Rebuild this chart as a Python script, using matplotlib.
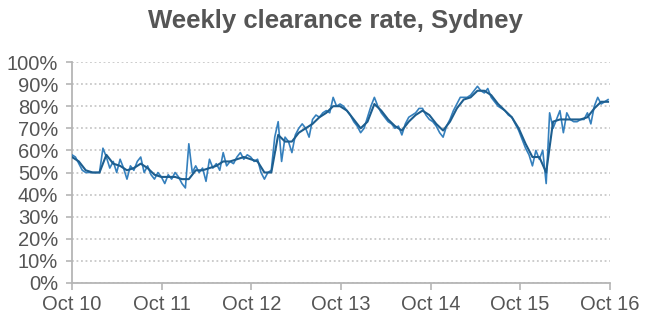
import matplotlib
matplotlib.use("Agg")
import matplotlib.pyplot as plt
import pandas as pd
import numpy as np

title = "Weekly clearance rate, Sydney"
tick_labels = ["Oct 10", "Oct 11", "Oct 12", "Oct 13", "Oct 14", "Oct 15", "Oct 16"]
tick_dates = ["2010-10-01", "2011-10-01", "2012-10-01", "2013-10-01",
              "2014-10-01", "2015-10-01", "2016-10-01"]

# fortnightly samples of the weekly clearance rate (%)
weekly_rate = [
    58, 57, 54, 51, 50, 50, 50, 50, 50, 61, 57, 52, 55, 50, 56, 52, 47, 53, 51, 55,
    57, 50, 53, 49, 47, 50, 48, 45, 49, 47, 50, 48, 45, 43, 63, 50, 53, 50, 52, 46,
    56, 52, 54, 51, 59, 53, 55, 54, 57, 59, 56, 58, 57, 55, 56, 50, 47, 50, 51, 66,
    73, 55, 66, 64, 59, 67, 70, 72, 70, 66, 74, 76, 75, 77, 78, 77, 84, 80, 81, 80,
    78, 76, 73, 71, 68, 70, 75, 80, 84, 80, 77, 75, 73, 72, 70, 71, 67, 72, 75, 76,
    77, 79, 79, 76, 74, 73, 71, 68, 66, 71, 74, 78, 81, 84, 84, 84, 85, 87, 89, 87,
    86, 88, 84, 82, 80, 79, 78, 76, 75, 72, 69, 65, 61, 58, 53, 60, 56, 60, 45, 77,
    70, 74, 78, 68, 77, 74, 73, 73, 74, 74, 77, 72, 80, 84, 81, 82, 83,
]

# 4-weekly samples of the smoothed rate (%)
smoothed_rate = [
    57, 55, 51, 50, 50, 58, 54, 53, 51, 52, 54, 52, 49, 48, 48, 48, 47, 47, 51, 51,
    52, 53, 55, 55, 56, 57, 56, 55, 50, 50, 67, 64, 64, 68, 70, 72, 75, 77, 80, 80,
    78, 74, 70, 73, 81, 78, 74, 71, 69, 73, 76, 78, 76, 72, 69, 73, 79, 83, 84, 87,
    87, 85, 81, 78, 75, 70, 63, 57, 57, 50, 73, 74, 74, 74, 74, 75, 79, 82, 82,
]

start = pd.Timestamp("2010-10-01")
weekly_dates = start + pd.to_timedelta(np.arange(len(weekly_rate)) * 14, unit="D")
smooth_dates = start + pd.to_timedelta(np.arange(len(smoothed_rate)) * 28, unit="D")

plt.rcParams["font.family"] = ["Liberation Sans", "DejaVu Sans"]

fig = plt.figure(figsize=(6.5, 3.28), dpi=100)
ax = fig.add_axes([72 / 650, 1 - 283 / 328, (610 - 72) / 650, (283 - 62) / 328])

ax.plot(weekly_dates, weekly_rate, color="#3580bd", lw=1.2, zorder=3)
ax.plot(smooth_dates, smoothed_rate, color="#1d5e8f", lw=1.5, zorder=4)

ax.set_ylim(0, 100)
ax.set_xlim(pd.Timestamp(tick_dates[0]), pd.Timestamp(tick_dates[-1]))
ax.set_yticks(np.arange(0, 101, 10))
ax.set_yticklabels([f"{v}%" for v in range(0, 101, 10)])
ax.set_xticks([pd.Timestamp(d) for d in tick_dates])
ax.set_xticklabels(tick_labels)

ax.grid(axis="y", color="#c8c8c8", linestyle=(0, (1.0, 1.5)), lw=1.3, zorder=1)
ax.set_axisbelow(True)
for s in ["top", "right"]:
    ax.spines[s].set_visible(False)
for s in ["left", "bottom"]:
    ax.spines[s].set_color("#b5b5b5")
    ax.spines[s].set_linewidth(1.3)

ax.tick_params(axis="y", length=4, color="#b5b5b5", width=1.2, labelsize=14.5,
               labelcolor="#555555", pad=6)
ax.tick_params(axis="x", length=5, color="#b5b5b5", width=1.2, labelsize=14.5,
               labelcolor="#555555", pad=4)

fig.text(335 / 650, 1 - 21 / 328, title, ha="center", va="center",
         fontsize=18.5, fontweight="bold", color="#555555")

fig.savefig("out.png", dpi=100)
